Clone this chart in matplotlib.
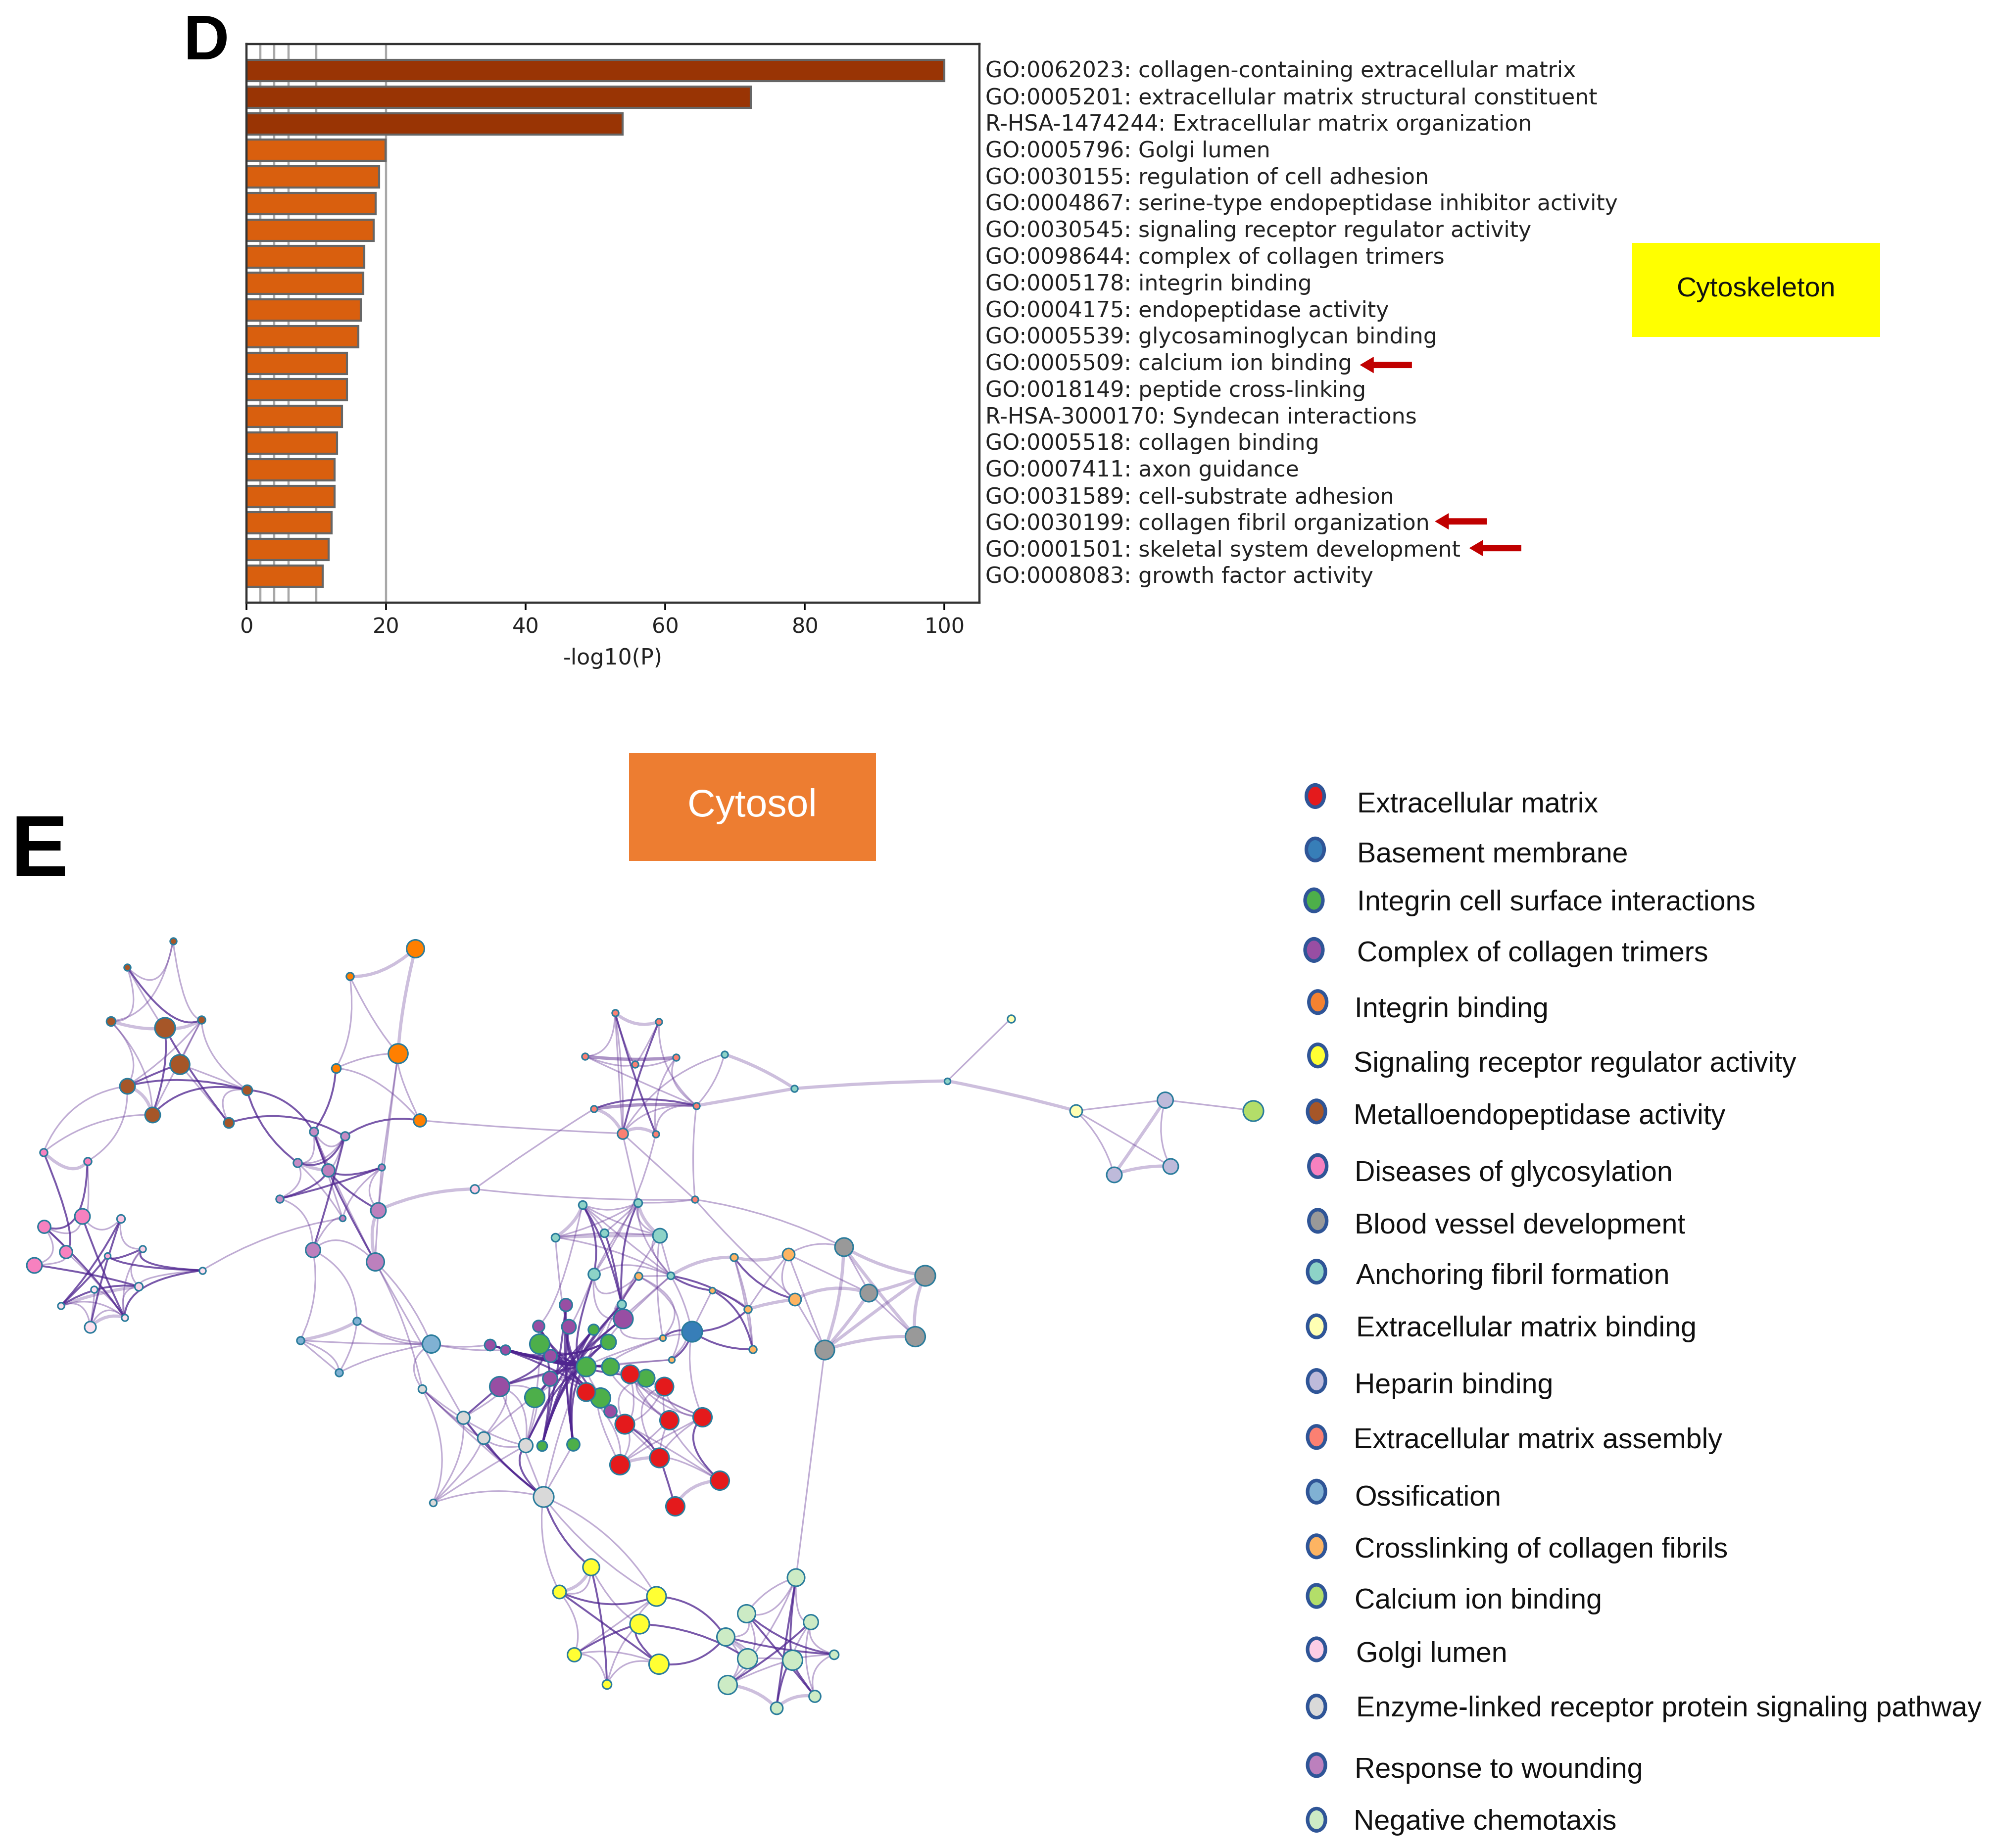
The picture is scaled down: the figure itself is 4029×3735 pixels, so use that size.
import numpy as np
import matplotlib
matplotlib.use("Agg")
import matplotlib.pyplot as plt
from matplotlib.path import Path
from matplotlib.patches import PathPatch, Rectangle, Ellipse, FancyArrow
from matplotlib.transforms import ScaledTranslation

# ---------- bar chart data ----------
terms = ["GO:0062023: collagen-containing extracellular matrix",
         "GO:0005201: extracellular matrix structural constituent",
         "R-HSA-1474244: Extracellular matrix organization",
         "GO:0005796: Golgi lumen",
         "GO:0030155: regulation of cell adhesion",
         "GO:0004867: serine-type endopeptidase inhibitor activity",
         "GO:0030545: signaling receptor regulator activity",
         "GO:0098644: complex of collagen trimers",
         "GO:0005178: integrin binding",
         "GO:0004175: endopeptidase activity",
         "GO:0005539: glycosaminoglycan binding",
         "GO:0005509: calcium ion binding",
         "GO:0018149: peptide cross-linking",
         "R-HSA-3000170: Syndecan interactions",
         "GO:0005518: collagen binding",
         "GO:0007411: axon guidance",
         "GO:0031589: cell-substrate adhesion",
         "GO:0030199: collagen fibril organization",
         "GO:0001501: skeletal system development",
         "GO:0008083: growth factor activity"]
log_p = [100, 72.3, 53.9, 19.9, 19.0, 18.5, 18.2, 16.9, 16.7, 16.4,
         16.0, 14.4, 14.4, 13.7, 13.0, 12.6, 12.6, 12.2, 11.8, 10.9]
grid_values = [2, 4, 6, 10, 20]
x_ticks = [0, 20, 40, 60, 80, 100]

# ---------- legend ----------
legend_names = ["Extracellular matrix", "Basement membrane", "Integrin cell surface interactions",
                "Complex of collagen trimers", "Integrin binding", "Signaling receptor regulator activity",
                "Metalloendopeptidase activity", "Diseases of glycosylation", "Blood vessel development",
                "Anchoring fibril formation", "Extracellular matrix binding", "Heparin binding",
                "Extracellular matrix assembly", "Ossification", "Crosslinking of collagen fibrils",
                "Calcium ion binding", "Golgi lumen", "Enzyme-linked receptor protein signaling pathway",
                "Response to wounding", "Negative chemotaxis"]
legend_colors = ["#e41a1c", "#377eb8", "#4daf4a", "#984ea3", "#f58231", "#ffff33", "#a65628", "#f781bf",
                 "#999999", "#8dd3c7", "#ffffb3", "#bebada", "#fb8072", "#80b1d3", "#fdb462", "#b3de69",
                 "#fccde5", "#d9d9d9", "#bc80bd", "#ccebc5"]
legend_marker_x = [1034, 1034, 1033, 1033, 1036, 1036, 1035, 1036, 1036, 1035,
                   1035, 1035, 1035, 1035, 1035, 1035, 1035, 1035, 1035, 1035]
legend_marker_y = [626, 668, 708, 747, 788, 830, 874, 917, 960, 1000,
                   1043, 1086, 1130, 1173, 1216, 1255, 1297, 1342, 1388, 1431]
legend_text_x = [1067, 1067, 1067, 1067, 1065, 1064, 1064, 1065, 1065, 1066,
                 1066, 1065, 1064, 1065, 1065, 1065, 1066, 1066, 1065, 1064]
legend_text_y = [633, 672, 710, 750, 794, 837, 878, 923, 964, 1004,
                 1045, 1090, 1133, 1178, 1219, 1259, 1301, 1344, 1392, 1433]

# ---------- network nodes (x, y, radius) ----------
brown = [(136,740,2.6),(100,760.5,2.6),(87,803,3.6),(129.4,808,8),(158.4,802,3),(141.3,837,7.7),
         (100,854,6),(119.7,876.6,6),(194,857,4),(179.7,883,4)]
orange = [(326.5,746,7),(275,767.7,3),(313,828.5,7.7),(264,840,3.6),(330,881,5)]
mauve = [(246.5,890,3.4),(271,893.5,3.4),(234,914.3,3.4),(258,920,5),(300,918,2.6),(220,942.6,3),
         (297.4,951.6,6),(269.4,958,2.4),(246,983,5.8),(294.8,992,7)]
pink = [(34.2,906,3),(68.7,913.3,3),(64.5,956.5,6),(34.5,964.5,5),(95,958.3,3.2),(51.6,984.3,5),
        (27,994.7,6),(112,982,2.6),(84.5,987.5,2.4),(159,999,2.6),(109,1011.6,3.2),(74,1013.8,2.6),
        (47.7,1026.8,2.6),(98,1036,2.6),(71,1043.4,4.5)]
pale_pink = [(373,935,3.4)]
salmon = [(483.5,796.5,2.6),(518,803.4,2.6),(460,830.6,2.6),(531.5,831.6,2.6),(499,837,2.6),(467,872,2.6),
          (547.5,869.5,2.6),(489.4,891.3,4.2),(515.5,891.7,2.6),(546.4,943.3,2.6)]
chain_teal = [(569.5,829,2.6),(624.6,856,2.6),(744.8,850,2.4)]
pale_yellow = [(794.7,801,3),(845.7,873.5,4.8)]
lavender = [(916,865,6.2),(875.9,923.5,6),(920.2,917,6)]
lime = [(985.3,873.3,8)]
teal = [(457.8,947.3,3.2),(501.7,945.7,3.2),(436.6,973,3.2),(475,969.5,3.2),(518.5,971.5,5.6),
        (467,1002,4.6),(527.4,1003.2,2.8),(488.7,1025.7,3.4)]
light_orange = [(502,1003.6,3),(577,988.6,3),(619.7,986.4,4.8),(559.8,1014.8,2.4),(625,1021.7,4.8),
                (588,1029.6,3),(591.8,1061,3),(521,1051.9,2.4),(527.8,1069.3,2.4)]
grey = [(663.3,980.6,7.2),(727,1003,8),(683,1016.7,6.8),(719.5,1051,7.8),(648.4,1061.4,7.6)]
dark_blue = [(543.8,1047,8)]
small_blue = [(280.6,1039,3),(236,1054,3),(339,1056.8,7),(266.5,1079.4,3)]
purple = [(444.8,1026,5),(489.7,1037,7.6),(423.2,1042.8,4.6),(447,1043,5.6),(385.2,1057.4,4.4),
          (397.4,1061.6,3.8),(432.6,1066,5),(432.3,1084,5.8),(392.6,1090.4,7.8),(479.7,1109.8,5)]
green = [(424.2,1056.8,7.8),(466.5,1045.5,4.2),(478,1055,6),(460.6,1074.7,7.6),(479.7,1074.7,6.8),
         (507.8,1083.6,6.8),(420.3,1098.8,7.8),(472,1099,7.8),(426.1,1136.9,4),(450.7,1135.7,5)]
red = [(495.2,1080.3,7.2),(522,1090.1,7.2),(460.7,1094.3,7.2),(491,1119.6,7.6),(526.1,1116.6,7.4),
       (552.3,1114.2,7.4),(487.1,1151.5,7.8),(518.4,1146.4,7.6),(565.8,1164.2,7.4),(530.7,1184.2,7.4)]
light_grey = [(332,1092.2,3.2),(364.2,1114.8,5),(380,1130.6,4.8),(413.2,1136.6,5.5),(340.3,1181.8,2.8),(427.1,1177,8)]
yellow = [(464.5,1232.4,6.5),(439.7,1251.7,5.2),(516,1255.3,7.6),(502.6,1277,7.6),(451.3,1301.2,5.4),
          (517.8,1308.3,7.8),(477.1,1324.4,3.6)]
pale_green = [(625.8,1240.4,6.8),(586.8,1268.7,7),(637.4,1275.3,5.8),(570.3,1287.2,7),(587.7,1304.1,7.8),
              (622.9,1305.3,7.8),(655.5,1300.9,3.6),(571.9,1324.7,7.4),(640.6,1333.9,4.6),(610.3,1343.1,4.8)]

groups = {"br": (brown, "#a65628"), "or": (orange, "#ff7f00"), "ma": (mauve, "#bc80bd"),
          "pk": (pink, "#f781bf"), "pp": (pale_pink, "#fccde5"), "sa": (salmon, "#fb8072"),
          "ct": (chain_teal, "#8dd3c7"), "py": (pale_yellow, "#ffffb3"), "la": (lavender, "#bebada"),
          "li": (lime, "#b3de69"), "te": (teal, "#8dd3c7"), "lo": (light_orange, "#fdb462"),
          "gr": (grey, "#999999"), "db": (dark_blue, "#377eb8"), "sb": (small_blue, "#80b1d3"),
          "pu": (purple, "#984ea3"), "gn": (green, "#4daf4a"), "re": (red, "#e41a1c"),
          "lg": (light_grey, "#d9d9d9"), "ye": (yellow, "#ffff33"), "pg": (pale_green, "#ccebc5")}
pink_fade = {3: "#f781bf", 4: "#fbc4e0", 7: "#fbd0e6", 8: "#f9a8d4", 9: "#fde0ee", 10: "#fcd5e8",
             11: "#fde0ee", 12: "#fde0ee", 13: "#fde0ee", 14: "#fde0ee"}

# ---------- network edges: group -> (bundle centre, pale, thick pale, dark) ----------
cluster_edges = {
 "br": ((140, 835), "0-1 0-2 0-4 1-2 1-3 2-6 2-7 4-5 4-8 4-7 4-6 5-8 8-9 5-9", "2-3 3-4 6-7", "1-4 3-9 3-7 5-6 6-8 7-8"),
 "or": ((295, 820), "1-2 1-3 2-3 2-4 3-4", "0-1 0-2", ""),
 "ma": ((262, 935), "0-1 0-2 1-2 1-3 2-7 4-7 0-9 4-6 8-9 5-8 7-8 2-5 0-7", "0-3 2-3 6-9", "3-4 3-5 3-6 3-9 1-8 5-4 0-3 1-2"),
 "pk": ((78, 1000), "1-2 2-4 2-3 3-6 5-6 5-13 7-13 11-14 12-14 13-14 12-13 10-13 7-10 3-5 4-7 9-10 11-13", "0-1 10-12 13-14", "0-5 1-3 3-13 6-10 2-13 4-12 8-7 8-12 10-12 4-14 9-13 9-7 9-8"),
 "sb": ((285, 1060), "0-3 1-3 1-2 0-2 2-3", "0-1", ""),
 "lg": ((385, 1150), "0-1 0-2 0-4 1-2 1-4 2-3 2-4 4-5 0-5 0-3 3-4", "", "1-5 3-5 2-5"),
 "sa": ((497, 850), "0-2 0-4 1-4 1-6 2-4 3-4 2-6 3-6 6-7 6-8 3-8 0-7", "0-1 2-3 5-6 5-7 7-8 2-3 5-6", "0-8 1-7 5-6"),
 "la": ((895, 900), "0-2", "0-1 1-2", ""),
 "te": ((480, 968), "0-3 0-4 0-1 1-2 1-3 1-4 2-3 3-4 1-5 1-6 2-6 0-6 4-6 5-6", "0-2 2-4 1-4", "0-7 3-7 0-5 1-7"),
 "lo": ((590, 1020), "0-7 0-8 7-8 1-5 2-5 3-5 5-6 1-6 2-4", "1-2 4-5", "1-4 3-6"),
 "gr": ((690, 1025), "0-2 2-3", "0-1 0-3 0-4 1-2 1-3 1-4 2-4 3-4", ""),
 "re": ((515, 1130), "3-6 4-7 4-6 5-7 7-8 4-8 3-8 5-6 1-4 1-3 1-5 0-5 0-3 0-4 2-6 2-3", "6-7 8-9", "7-9 5-8 3-7"),
 "ye": ((480, 1280), "0-1 1-4 2-3 2-4 4-5 4-6 5-6 3-6 0-3", "0-1", "1-2 1-5 0-6 3-4 3-5"),
 "pg": ((615, 1302), "0-1 0-2 0-7 1-3 1-4 2-5 2-6 3-4 3-7 4-7 5-6 4-5 6-8 2-8 5-7", "7-9 8-9 3-4", "0-5 0-9 1-6 2-7 3-6 5-8 5-9 1-8"),
}

# central knot: every listed node is tied through the knot to its partner
knot_centre = (441, 1075)
knot_dark = ("pu0-gn3 pu2-gn3 pu3-gn3 pu4-gn3 pu5-gn3 pu6-gn3 pu7-gn3 pu8-gn3 gn0-gn3 gn1-gn6 gn2-gn0 "
             "gn4-gn0 gn8-gn3 gn9-gn3 gn8-gn1 gn9-gn2 lg3-gn1 lg3-gn3 pu1-gn3 pu1-gn6 pu4-gn4 pu5-gn4 "
             "pu0-gn8 pu3-gn9 te5-gn3 te7-gn3 te7-gn8 re2-gn3 gn7-gn0 gn7-pu4 pu9-pu2 pu6-gn4 gn5-gn3 "
             "pu0-gn7 pu8-gn0 pu2-gn8 gn1-gn9 gn2-gn8 pu4-gn3 pu5-gn3 pu4-gn4 pu5-gn2 pu0-gn9")
knot_pale = ("pu8-gn3 pu7-re2 pu8-gn6 gn6-pu7 gn6-gn3 gn4-re0 gn5-re1 gn7-re3 pu9-re3 gn3-re3 gn4-re4 "
             "gn5-re4 gn7-re6 pu2-te0 pu3-te2 pu1-te4 pu1-te6 lo0-gn2 lo7-gn4 lo8-gn4 lo8-gn3 lo7-gn3 "
             "lo0-gn3 te6-gn2 pu8-lg1 pu8-lg2 pu8-lg3 gn6-lg2 gn6-lg3 lg5-gn3 pu2-lg3 re0-re5 re1-re7 "
             "gn5-re3 gn5-re5 gn7-re7 pu1-lo0 pu1-lo7 te5-pu1 te7-lo0 lo0-te5 pu3-te5")

# cross edges between groups: a, b, style (P pale, T thick pale, D dark), sideways bend
cross_ids = ["br6-pk0","br7-pk0","br6-pk1","br9-ma1","br8-ma0","br8-ma2","or3-ma0","or4-ma1","or2-ma4","or2-ma6","or4-sa7",
             "ma6-pp0","pp0-sa9","pp0-sa5","pk9-ma7","ma8-sb1","ma8-sb0","ma9-sb2","ma9-lg0","ma6-ma9","ma9-lg1","ma4-ma6",
             "sb2-pu4","sb2-pu5","sb0-sb2","sb2-lg0","sb3-sb1",
             "lg5-ye0","lg5-ye1","lg5-ye2","lg5-pu8","lg5-gn9","lg1-pu8",
             "sa6-ct0","sa6-ct1","ct0-ct1","ct0-sa7","ct1-ct2","ct2-py0","ct2-py1","py1-la0","py1-la1","py1-la2","la0-li0",
             "sa7-sa9","sa6-sa9","sa7-te1","sa8-te5","sa9-te1","sa9-gr0","sa9-lo4","sa0-sa7",
             "te6-lo1","te6-lo5","te6-lo3","te6-db0","te4-lo7","te4-te6","lo2-gr0","lo4-gr2","lo4-gr4","lo2-gr2","lo2-gr4","lo0-te6",
             "db0-lo6","db0-lo5","db0-lo7","db0-lo8","db0-lo3","db0-re5","gr4-pg0",
             "ye2-pg3","ye3-pg4","ye5-pg3","ye2-lg5","pg0-pg1"]
cross_styles = ["P","P","P","D","D","D","D","D","P","P","P",
                "T","P","P","P","P","P","P","P","P","P","P",
                "P","P","P","P","P",
                "D","P","P","P","P","D",
                "P","T","T","P","T","P","T","P","P","P","P",
                "P","P","P","P","P","P","P","P",
                "T","D","D","P","P","P","P","T","P","P","P","P",
                "D","D","D","D","P","P","P",
                "D","D","D","P","P"]
cross_bends = [12,8,-10,-10,-8,6,-4,6,0,0,1,
               -4,3,-1,-6,-6,-10,-4,-4,0,0,0,
               2,2,6,10,0,
               5,6,-10,0,0,0,
               3,0,-2,10,-1,0,-1,0,-4,0,0,
               0,2,0,-6,-1,-5,2,0,
               -4,-4,2,-2,3,0,-5,-6,0,0,0,0,
               4,5,3,-3,0,5,0,
               -8,-6,8,-6,4]

arrow_rows = [287, 410, 431]
arrow_tails = [1110, 1169, 1196]

# ---------- figure ----------
DPI = 100
fig = plt.figure(figsize=(40.30, 37.35), dpi=DPI)
U = 4030 / 1568.0          # picture units -> pixels
FW, FH = 1568.0, 3735 / U
PT = U * 72.0 / DPI        # picture units -> points

# bar panel
L, R, T, B = 193.8, 769.8, 34.5, 474.0
ax = fig.add_axes([L / FW, 1 - B / FH, (R - L) / FW, (B - T) / FH])
y = np.arange(len(terms))
bar_colors = ["#993404" if v > 40 else "#d95f0e" for v in log_p]
for g in grid_values:
    ax.axvline(g, color="#a8a8a8", lw=3.2, zorder=1)
ax.barh(y, log_p, height=0.8, color=bar_colors, edgecolor="#666666", linewidth=3, zorder=2)
ax.set_xlim(0, 105)
ax.set_ylim(20, -1)
ax.set_xticks(x_ticks)
ax.set_yticks(y)
ax.set_yticklabels(terms, fontsize=31.9, color="#222222")
ax.yaxis.tick_right()
ax.tick_params(axis="y", length=0, pad=9)
ax.tick_params(axis="x", length=11, width=2.6, labelsize=31, pad=9, labelcolor="#222222")
ax.set_xlabel("-log10(P)", fontsize=31.9, labelpad=15, color="#222222")
for lab in ax.get_yticklabels():
    lab.set_transform(lab.get_transform() + ScaledTranslation(0, 2.2 / 72, fig.dpi_scale_trans))
for s in ax.spines.values():
    s.set_linewidth(3.2)
    s.set_color("#333333")

# overlay in picture units
ov = fig.add_axes([0, 0, 1, 1], zorder=5)
ov.set_xlim(0, FW)
ov.set_ylim(FH, 0)
ov.axis("off")
ov.patch.set_alpha(0)

# arrows next to terms
for yy, x0 in zip(arrow_rows, arrow_tails):
    ov.add_patch(FancyArrow(x0, yy, -41, 0, width=5, head_width=13, head_length=11,
                            length_includes_head=True, color="#c00000", lw=0))

# colored boxes
ov.add_patch(Rectangle((1283, 191), 195, 74, fc="#ffff00", ec="none"))
ov.text(1380.5, 227.5, "Cytoskeleton", fontsize=40, family="Liberation Sans", ha="center", va="center", color="#111111")
ov.add_patch(Rectangle((494.5, 592), 194, 85, fc="#ed7d31", ec="none"))
ov.text(591.5, 634, "Cytosol", fontsize=56.5, family="Liberation Sans", ha="center", va="center", color="white")

# panel letters
ov.text(162, 34, "D", fontsize=92, family="Liberation Sans", weight="bold", ha="center", va="center", color="black")
ov.text(31, 671, "E", fontsize=125, family="Liberation Sans", weight="bold", ha="center", va="center", color="black")

# legend
for c, mx, my, tx, ty, name in zip(legend_colors, legend_marker_x, legend_marker_y, legend_text_x, legend_text_y, legend_names):
    ov.add_patch(Ellipse((mx, my), 14, 17.5, fc=c, ec="#2f5597", lw=2.8 * PT))
    ov.text(tx, ty, name, fontsize=41.2, family="Liberation Sans", ha="left", va="center", color="#111111")

# network
pos = {}
for g, (nodes, _) in groups.items():
    for i, n in enumerate(nodes):
        pos[f"{g}{i}"] = np.array(n[:2], float)

STY = {"P": ("#6a3d9a", 0.42, 1.25), "T": ("#6a3d9a", 0.33, 2.5), "D": ("#4f2590", 0.76, 1.5)}

def draw_edge(a, b, style, ctrl):
    col, alpha, w = STY[style]
    path = Path([pos[a], ctrl, pos[b]], [Path.MOVETO, Path.CURVE3, Path.CURVE3])
    ov.add_patch(PathPatch(path, fc="none", ec=col, alpha=alpha, lw=w * PT, zorder=2, capstyle="round"))

for g, (hub, pale, thick, dark) in cluster_edges.items():
    hub = np.array(hub, float)
    for txt, st, k in ((pale, "P", 0.45), (thick, "T", 0.2), (dark, "D", 0.6)):
        for pair in txt.split():
            a, b = pair.split("-")
            a, b = g + a, g + b
            mid = (pos[a] + pos[b]) / 2
            draw_edge(a, b, st, mid + (hub - mid) * k)

knot = np.array(knot_centre, float)
for txt, st, k in ((knot_dark, "D", 0.9), (knot_pale, "P", 0.4)):
    for pair in txt.split():
        a, b = pair.split("-")
        mid = (pos[a] + pos[b]) / 2
        draw_edge(a, b, st, mid + (knot - mid) * k)

for pair, st, bend in zip(cross_ids, cross_styles, cross_bends):
    a, b = pair.split("-")
    d = pos[b] - pos[a]
    n = np.array([-d[1], d[0]]) / (np.hypot(*d) + 1e-9)
    draw_edge(a, b, st, (pos[a] + pos[b]) / 2 + n * bend * 2)

# nodes on top
for g, (nodes, color) in groups.items():
    for i, (x, yy, r) in enumerate(nodes):
        fc = pink_fade.get(i, color) if g == "pk" else color
        if g == "ma" and i in (0, 1, 2, 5):
            fc = "#c48cc4"
        ov.scatter([x], [yy], s=(2 * r * PT) ** 2, c=[fc], edgecolors="#2a7c9c",
                   linewidths=1.2 * PT, zorder=3)

fig.savefig("out.png", dpi=DPI, facecolor="white")
